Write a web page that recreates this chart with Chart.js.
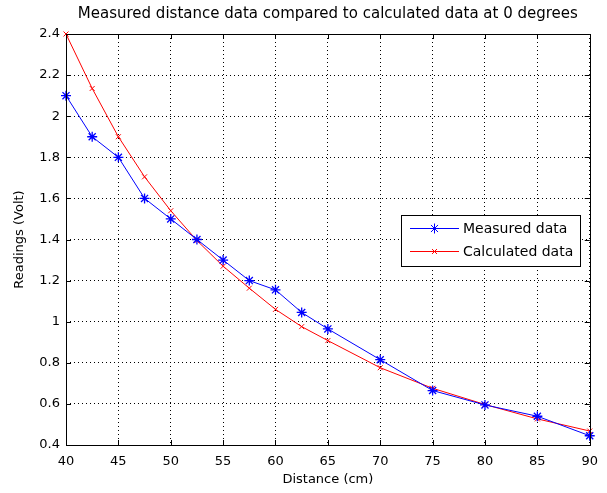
<!DOCTYPE html>
<html><head><meta charset="utf-8">
<script src="https://cdn.jsdelivr.net/npm/chart.js@4/dist/chart.umd.min.js"></script>
<style>html,body{margin:0;padding:0;background:#fff}#wrap{width:607px;height:493px}</style>
</head><body><div id="wrap"><canvas id="c" width="607" height="493"></canvas></div>
<script>
const chartTitle = 'Measured distance data compared to calculated data at 0 degrees';
const xLabel = 'Distance (cm)';
const yLabel = 'Readings (Volt)';
const distances = [40, 42.5, 45, 47.5, 50, 52.5, 55, 57.5, 60, 62.5, 65, 70, 75, 80, 85, 90];
const measured = [2.10, 1.90, 1.80, 1.60, 1.50, 1.40, 1.30, 1.20, 1.155, 1.045, 0.965, 0.815, 0.665, 0.595, 0.54, 0.445];
const calculated = [2.40, 2.135, 1.90, 1.705, 1.54, 1.395, 1.27, 1.163, 1.06, 0.976, 0.908, 0.776, 0.676, 0.597, 0.527, 0.468];
const xTicks = [40, 45, 50, 55, 60, 65, 70, 75, 80, 85, 90];
const yTicks = [0.4, 0.6, 0.8, 1.0, 1.2, 1.4, 1.6, 1.8, 2.0, 2.2, 2.4];

const FONT = 'DejaVu Sans';

const matlabPlugin = {
  id: 'matlab',
  afterDraw(chart) {
    const ctx = chart.ctx;
    const a = chart.chartArea;
    const xs = chart.scales.x, ys = chart.scales.y;
    ctx.save();
    ctx.strokeStyle = '#000';
    ctx.lineWidth = 1;
    ctx.setLineDash([]);
    ctx.strokeRect(Math.round(a.left) + 0.5, Math.round(a.top) + 0.5, Math.round(a.right - a.left), Math.round(a.bottom - a.top));
    const L = 5;
    ctx.beginPath();
    xTicks.forEach(v => {
      const px = Math.round(xs.getPixelForValue(v)) + 0.5;
      ctx.moveTo(px, a.bottom); ctx.lineTo(px, a.bottom - L);
      ctx.moveTo(px, a.top); ctx.lineTo(px, a.top + L);
    });
    yTicks.forEach(v => {
      const py = Math.round(ys.getPixelForValue(v)) + 0.5;
      ctx.moveTo(a.left, py); ctx.lineTo(a.left + L, py);
      ctx.moveTo(a.right, py); ctx.lineTo(a.right - L, py);
    });
    ctx.stroke();
    ctx.fillStyle = '#000';
    ctx.font = '15px "' + FONT + '"';
    ctx.textAlign = 'center';
    ctx.textBaseline = 'middle';
    ctx.fillText(chartTitle, (a.left + a.right) / 2, 14);
    const lx = 401, ly = 215, lw = 179, lh = 51;
    ctx.fillStyle = '#fff';
    ctx.fillRect(lx, ly, lw, lh);
    ctx.strokeStyle = '#000';
    ctx.strokeRect(lx + 0.5, ly + 0.5, lw, lh);
    const rows = [228.5, 251.5];
    chart.data.datasets.forEach((ds, i) => {
      const y = rows[i];
      ctx.strokeStyle = ds.borderColor;
      ctx.lineWidth = 1;
      ctx.beginPath();
      ctx.moveTo(410, y); ctx.lineTo(459, y);
      ctx.stroke();
      Chart.helpers.drawPoint(ctx, {pointStyle: ds.pointStyle, radius: ds.pointRadius, borderWidth: 1}, 434.5, y);
      ctx.fillStyle = '#000';
      ctx.textAlign = 'left';
      ctx.textBaseline = 'middle';
      ctx.font = '14px "' + FONT + '"';
      ctx.fillText(ds.label, 463, y + 1);
    });
    ctx.restore();
  }
};

const fmt = v => String(Number(v.toFixed(1)));

new Chart(document.getElementById('c'), {
  type: 'line',
  data: {
    datasets: [
      {
        label: 'Measured data',
        data: distances.map((d, i) => ({x: d, y: measured[i]})),
        borderColor: '#0000ff', backgroundColor: '#0000ff',
        borderWidth: 1, pointStyle: 'star', pointRadius: 5, pointBorderWidth: 1.3,
        pointBorderColor: '#0000ff', tension: 0, clip: false
      },
      {
        label: 'Calculated data',
        data: distances.map((d, i) => ({x: d, y: calculated[i]})),
        borderColor: '#ff0000', backgroundColor: '#ff0000',
        borderWidth: 1, pointStyle: 'crossRot', pointRadius: 3.5, pointBorderWidth: 1,
        pointBorderColor: '#ff0000', tension: 0, clip: false
      }
    ]
  },
  options: {
    responsive: false,
    animation: false,
    devicePixelRatio: 1,
    layout: {padding: {top: 34, right: 15, left: 0, bottom: 0}},
    plugins: {legend: {display: false}, title: {display: false}, tooltip: {enabled: false}},
    elements: {point: {hoverRadius: 4}},
    scales: {
      x: {
        type: 'linear', min: 40, max: 90,
        afterBuildTicks: s => { s.ticks = xTicks.map(v => ({value: v})); },
        afterFit: s => { s.height = 48; },
        grid: {color: '#000', lineWidth: 1, drawTicks: false},
        border: {display: false, dash: [1, 3]},
        ticks: {color: '#000', font: {family: FONT, size: 13}, padding: 9, maxRotation: 0, autoSkip: false, callback: v => fmt(v)},
        title: {display: true, text: xLabel, color: '#000', font: {family: FONT, size: 13}, padding: {top: 0, bottom: 6}}
      },
      y: {
        type: 'linear', min: 0.4, max: 2.4,
        afterBuildTicks: s => { s.ticks = yTicks.map(v => ({value: v})); },
        afterFit: s => { s.width = 66; },
        grid: {color: '#000', lineWidth: 1, drawTicks: false},
        border: {display: false, dash: [1, 3]},
        ticks: {color: '#000', font: {family: FONT, size: 13}, padding: 6, autoSkip: false, callback: v => fmt(v)},
        title: {display: true, text: yLabel, color: '#000', font: {family: FONT, size: 13}, padding: {top: 12, bottom: 0}}
      }
    }
  },
  plugins: [matlabPlugin]
});
</script>
</body></html>
